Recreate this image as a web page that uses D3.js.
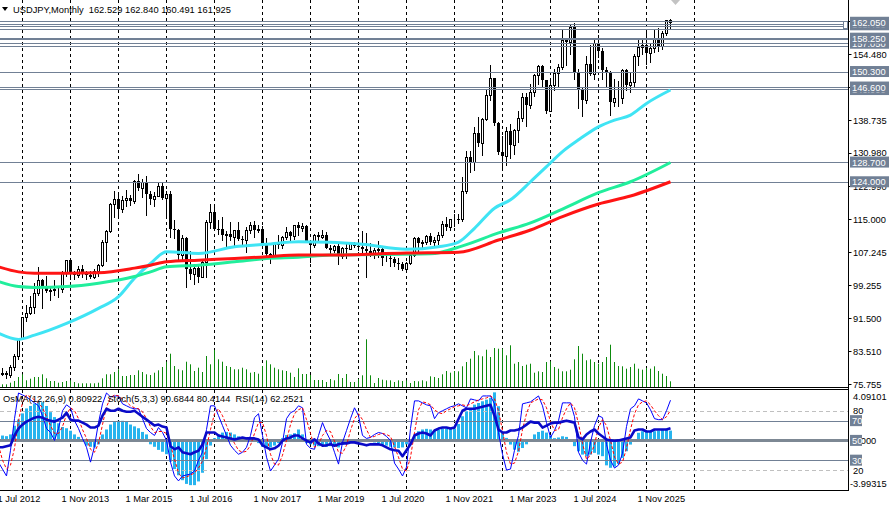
<!DOCTYPE html>
<html>
<head>
<meta charset="utf-8">
<script src="https://cdn.jsdelivr.net/npm/d3@7"></script>
<style>
  body { margin: 0; background: #fff; }
  svg { display: block; font-family: "Liberation Sans", Arial, sans-serif; font-size: 9.3px; }
  .pre { white-space: pre; }
</style>
</head>
<body>
<div id="chart"></div>
<script>
// USDJPY monthly bars, Jul 2012 .. Jul 2026 (bar index 0 = Jul 2012)
var opens = [79.8,78.1,78.4,77.9,79.8,82.5,
  86.7,91.7,92.6,94.2,97.5,100.5,99.1,97.9,98.2,98.3,98.4,102.4,
  105.3,102.0,101.8,103.2,102.2,101.8,101.3,102.8,104.1,109.6,112.3,118.6,
  119.8,117.5,119.6,120.1,119.4,124.1,122.5,123.9,121.2,119.9,120.6,123.1,
  120.2,121.1,112.7,112.6,106.5,110.7,103.2,102.1,103.4,101.3,104.8,114.5,
  116.9,112.8,112.7,111.4,111.5,110.8,112.4,110.3,110.2,112.5,113.6,112.5,
  112.7,109.2,106.7,106.3,109.3,108.8,110.8,111.9,111.0,113.7,112.9,113.5,
  109.7,108.9,111.4,110.8,111.4,108.3,107.8,108.7,106.3,108.1,108.0,109.5,
  108.6,108.4,107.9,107.5,106.9,107.8,107.9,105.9,105.9,105.5,104.7,104.3,
  103.2,104.7,106.6,110.7,109.3,109.6,111.1,109.7,110.0,111.3,113.9,113.2,
  115.1,115.1,115.0,121.7,129.8,128.7,135.7,133.3,139.0,144.7,148.7,138.1,
  131.1,130.1,136.2,132.8,136.3,139.3,144.3,142.3,145.5,149.4,151.7,148.2,
  141.0,147.0,149.9,151.3,157.8,157.3,160.9,150.0,146.2,143.6,152.0,149.8,
  157.2,155.2,150.6,149.9,143.1,144.0,144.0,150.7,147.1,147.9,154.0,156.2,
  156.7,154.8,155.9,158.2,156.5,159.4,162.529];
var highs = [79.9,79.6,78.9,80.2,82.8,86.8,
  91.8,94.5,96.7,99.9,103.7,100.9,101.5,99.1,100.6,99.0,102.6,105.4,
  105.4,102.8,103.8,104.1,102.8,102.8,103.1,104.5,110.1,112.5,119.0,121.8,
  120.8,120.5,122.0,120.8,124.5,125.9,124.6,125.3,121.8,121.5,123.8,123.7,
  121.7,121.7,114.9,112.7,111.4,110.8,107.5,104.3,104.0,105.5,114.8,118.7,
  118.6,114.9,115.5,112.2,114.4,112.5,114.5,111.1,113.2,114.4,114.7,113.8,
  113.4,110.5,107.0,109.5,111.4,111.0,113.2,112.2,113.8,114.5,114.2,113.8,
  110.0,111.5,112.1,112.4,112.0,108.8,109.0,109.3,108.5,109.3,109.7,109.7,
  110.3,112.2,111.7,109.4,108.1,109.9,108.2,107.0,106.6,106.1,105.7,104.8,
  104.9,106.7,110.9,110.9,110.2,111.2,111.7,110.8,112.1,114.7,115.5,115.2,
  116.3,116.3,125.1,131.3,131.3,137.0,139.4,139.1,145.9,151.9,148.8,138.2,
  134.8,137.1,137.9,136.6,140.9,145.1,145.1,147.4,149.7,151.8,151.9,148.3,
  148.8,150.9,152.0,160.2,158.0,161.3,161.95,150.9,146.5,153.9,156.7,158.1,
  158.9,155.9,151.3,150.5,148.6,148.0,150.9,150.9,149.9,154.5,157.9,157.8,
  159.4,157.0,160.2,160.8,160.0,162.7,162.84];
var lows = [77.9,78.0,77.1,77.5,79.0,81.7,
  86.5,90.9,92.5,92.6,97.1,93.8,97.6,95.8,96.9,96.6,97.6,101.6,
  100.8,100.8,101.2,101.4,100.8,101.1,101.1,101.5,104.0,105.2,111.9,115.6,
  115.9,116.9,118.3,118.5,118.9,122.0,120.4,116.1,118.6,118.1,120.5,119.9,
  115.9,110.9,110.7,105.5,105.5,99.0,100.7,99.5,100.1,101.2,101.2,112.9,
  112.5,111.6,110.1,108.1,110.2,108.8,110.2,108.6,107.3,111.7,110.8,111.9,
  108.3,105.6,104.6,105.7,108.1,108.1,110.3,109.8,110.4,111.4,112.3,109.6,
  104.8,108.5,109.7,110.7,108.2,106.8,107.2,104.5,105.7,105.7,107.9,108.4,
  107.7,107.0,101.2,106.4,105.9,106.1,104.2,105.1,104.0,104.0,103.2,102.9,
  102.6,104.4,106.4,107.5,108.3,109.2,109.1,108.7,109.1,110.8,112.5,112.6,
  113.5,114.2,114.6,121.3,126.4,126.9,132.5,130.4,138.8,143.5,137.5,130.6,
  127.2,128.1,129.6,130.6,133.5,138.4,137.2,141.5,144.4,147.3,146.7,140.3,
  140.8,145.9,146.5,151.0,151.9,154.5,148.5,141.7,139.6,142.9,149.4,148.6,
  153.7,148.6,146.5,139.9,142.1,142.1,142.7,145.9,145.5,146.6,151.9,154.4,
  152.1,152.5,155.0,155.3,155.6,158.9,160.491];
var closes = [78.1,78.4,77.9,79.8,82.5,86.7,
  91.7,92.6,94.2,97.5,100.5,99.1,97.9,98.2,98.3,98.4,102.4,105.3,
  102.0,101.8,103.2,102.2,101.8,101.3,102.8,104.1,109.6,112.3,118.6,119.8,
  117.5,119.6,120.1,119.4,124.1,122.5,123.9,121.2,119.9,120.6,123.1,120.2,
  121.1,112.7,112.6,106.5,110.7,103.2,102.1,103.4,101.3,104.8,114.5,116.9,
  112.8,112.7,111.4,111.5,110.8,112.4,110.3,110.2,112.5,113.6,112.5,112.7,
  109.2,106.7,106.3,109.3,108.8,110.8,111.9,111.0,113.7,112.9,113.5,109.7,
  108.9,111.4,110.8,111.4,108.3,107.8,108.7,106.3,108.1,108.0,109.5,108.6,
  108.4,107.9,107.5,106.9,107.8,107.9,105.9,105.9,105.5,104.7,104.3,103.2,
  104.7,106.6,110.7,109.3,109.6,111.1,109.7,110.0,111.3,113.9,113.2,115.1,
  115.1,115.0,121.7,129.8,128.7,135.7,133.3,139.0,144.7,148.7,138.1,131.1,
  130.1,136.2,132.8,136.3,139.3,144.3,142.3,145.5,149.4,151.7,148.2,141.0,
  147.0,149.9,151.3,157.8,157.3,160.9,150.0,146.2,143.6,152.0,149.8,157.2,
  155.2,150.6,149.9,143.1,144.0,144.05,150.7,147.1,147.9,154.0,156.2,156.7,
  154.8,155.9,158.2,156.5,159.4,162.529,161.925];
// tick volume, thousands
var volumes = [2,2.7,2.7,4.3,6,10,
  12.7,6.7,8.3,10,10,12.7,8.7,6,6,4.3,5,6,
  6.7,5,3.7,3.7,3.7,3.7,3.7,4.3,8.7,12.7,12.7,15,
  17.7,11,11,12,12,16.7,15,12.7,12,14.3,16.7,20,
  25.3,33.3,21,17.7,16.7,25.3,22.7,16,19.3,15,31,22.7,
  37,27.7,25.3,21,20,17.7,17.7,19.3,17.7,14.3,15,13.3,
  21,26.7,22.7,19.3,17.7,16.7,16,14.3,10,18.7,13,13,
  12,7,7,7,5,8,6.7,13,9,13,5,5,
  8,11.7,47.7,11.7,4,9,7.3,6.7,6.7,5,6.7,6,
  6.7,4,6,5.7,6.7,5.7,10.7,10,9,12.7,16,14.3,
  16,15.7,20.7,25,28.3,36,31.7,30.7,37.3,30,39,38.3,
  38.3,31.7,41.7,23.3,25,21,22.3,23.3,14.3,15.7,15,25,
  25.7,20,18.3,15.7,15.7,17.3,27.7,41,33.3,26.7,27.7,25,
  23.3,25,30,42.3,25,21,20.7,18.3,20,23.3,18.3,17.3,
  19,18.3,20.7,16,13.3,11,5.7];

// moving averages at a few bars
var maFastBars = [0,5,9,17,25,30,34,38,42,50,59,67,75,83,91,102,110,115,119,124,128,133,137,141,145,150,154,158,162,168];
var maFast = [87.85,86.4,87.4,90.2,93.8,96.6,101.0,104.5,107.3,106.9,108.5,109.1,109.7,109.6,109.1,107.9,108.5,109.6,112.9,117.7,119.7,124.0,127.6,131.2,134.0,137.1,138.7,139.9,142.7,145.9];
var maMidBars = [0,5,9,17,25,34,38,42,50,59,67,75,83,108,116,125,133,141,150,158,168];
var maMid = [100.2,99.0,98.8,99.0,99.8,101.4,102.5,103.7,104.1,104.9,105.7,106.0,106.5,106.8,108.7,111.8,114.2,117.5,121.4,124.0,128.6];
var maSlowBars = [0,5,9,17,25,34,38,42,50,59,67,75,83,102,115,125,133,141,150,158,168];
var maSlow = [103.7,102.5,102.2,102.2,102.3,103.4,104.1,104.9,105.3,105.7,106.1,106.5,106.5,107.0,107.2,110.1,112.5,115.7,118.7,120.6,124.0];

// oscillator window
var osma = [0.76,0.41,0.36,0.5,1.2,1.7,
  2.2,2.6,2.8,3.0,3.15,3.1,2.8,2.3,1.9,1.4,1.1,1.0,
  0.8,0.5,0.3,0.1,-0.4,-0.5,-0.55,-0.3,0.5,0.9,1.3,1.5,
  1.6,1.6,1.55,1.3,1.15,1.0,0.7,0.5,-0.3,-0.5,-0.75,-0.9,
  -1.1,-1.7,-2.3,-2.8,-3.2,-3.5,-3.6,-3.6,-3.3,-2.6,-1.5,-0.4,
  0.2,0.5,0.65,0.7,0.65,0.5,0.35,0.1,-0.05,0.05,0.1,-0.2,
  -0.5,-0.6,-0.55,-0.4,-0.2,0.2,0.45,0.5,0.6,0.9,0.5,-0.2,
  -0.3,-0.4,-0.45,-0.4,-0.5,-0.45,-0.45,-0.55,-0.35,-0.1,-0.05,0.05,
  0.05,-0.1,-0.05,-0.1,-0.15,-0.2,-0.35,-0.4,-0.5,-0.55,-0.6,-0.55,
  -0.3,0.1,0.36,0.76,0.9,0.95,0.9,0.81,0.89,0.98,0.98,1.03,
  0.98,1.34,1.97,2.37,2.64,2.91,3.04,3.18,3.31,3.45,3.9,2.78,
  0.63,0.22,-0.32,-0.73,-0.9,-0.6,-0.3,0.1,0.5,0.7,0.8,0.65,
  0.4,0.2,0.25,0.35,0.3,0.1,-0.45,-0.86,-1.13,-1.26,-1.13,-0.99,
  -1.13,-1.26,-2.0,-2.2,-2.1,-1.9,-1.4,-0.86,-0.32,0.09,0.63,0.76,
  0.76,0.76,0.76,0.81,0.89,0.95,0.81];
var stochMain = [27.7,20.9,14,40,72,98,
  96,94,91,88,85,75,62,58,50,62,80,86,
  83,70,62,52,43,28,44,68,87,98,94,95,
  95,87,85,83,82,82,72,62,58,55,63,58,
  50,28,14,9,14,15,16,19,30,38,61,85,
  85,75,65,55,45,40,36,38,43,55,73,77,
  55,33,19,25,31,48,72,78,80,85,83,46,
  42,41,55,68,58,50,38,26,48,60,72,83,
  75,55,52,53,56,58,57,54,50,27,21,14,
  23,62,90,90,88,86,85,72,78,80,82,84,
  85,87,85,83,92,91,90,95,95,95,87,58,
  36,20,21,40,55,87,88,89,92,95,85,68,
  53,60,70,88,88,88,74,38,30,26,48,65,
  75,73,46,30,22,25,37,64,82,85,92,90,
  88,81,72,71,71,80,90.68];
var stochSignal = [45,30,21,25,42,70,
  88,96,94,91,88,83,74,65,57,57,64,76,
  83,80,72,61,52,41,38,47,66,84,93,96,
  95,92,89,85,83,82,79,72,64,58,59,59,
  57,45,31,17,12,13,15,17,22,29,43,61,
  77,82,75,65,55,47,40,38,39,45,57,68,
  68,55,36,26,25,35,50,66,77,81,83,71,
  57,43,46,55,60,59,49,38,37,45,60,72,
  77,71,61,53,54,56,57,56,54,44,33,21,
  19,33,58,81,89,88,86,81,78,77,80,82,
  84,85,86,85,87,89,91,92,93,95,92,80,
  60,38,26,27,39,61,77,88,90,92,91,83,
  69,60,61,73,82,88,83,67,47,31,35,46,
  63,71,65,50,33,26,28,42,61,77,86,89,
  90,86,80,75,71,74,80.41];
var rsi = [43,43,44,45,55,62,
  66,69,71,73,74,73,71,70,69,71,73,78,
  71,70,70,68,66,63,63,65,75,82,80,80,
  82,80,79,79,80,77,74,71,68,65,66,64,
  63,44,41,43,38,37,36,38,39.5,46,58,58,
  58,55,54,53,52,51,52,53,52,52,52,51,
  45,43,41,42,44.6,49.7,52,53,55,55,52,49.7,
  48,51,47,44.6,45,46,44.6,46,47,47,48,48,
  47,46,45,46,46,46,45,43,41,40,39.5,34,
  40,46,55,57,58,57,55,60,62,63,63,62,
  63,71.6,80,82,82,82,83,84,85,86,75,61,
  58,58,60,60,61,63,66,69,68,68,63,65,
  67,68,68,69,70,69,68,53,51,56,59,61,
  57,54,51,50,49.7,50,51,52,53,60,61,61,
  59,59,61,61,61,61,62.25];

// axis ticks and drawn levels
var priceTicks = [75.755,83.510,91.500,99.255,107.245,115.000,122.990,130.980,138.735,146.725,154.480,162.470];
var levelLines = [162.45,161.7,161.05,160.45,158.25,157.95,157.1,156.45,150.3,150.12,146.6,146.1,128.7,124.0];
var hiddenLabels = [161.45,157.05,146.0];
var levelLabels = [162.05,158.25,150.3,146.6,128.7,124.0];
var dateTickBars = [0,16,32,48,64,80,96,112,128,144,160];
var dateTickLabels = ["1 Jul 2012","1 Nov 2013","1 Mar 2015","1 Jul 2016","1 Nov 2017","1 Mar 2019","1 Jul 2020","1 Nov 2021","1 Mar 2023","1 Jul 2024","1 Nov 2025"];
var oscLevels = [80,70,50,30,20];

var width = 889, height = 508;
var axisX = 848.5;
var mainBottom = 387;
var oscTop = 390, oscBottom = 490;
var levelColor = "#718095";

var svg = d3.select("#chart").append("svg")
  .attr("width", width)
  .attr("height", height);

var x = d3.scaleLinear().domain([0, 168]).range([-1.5, 670.5]);
var y = d3.scaleLinear().domain([75.755, 154.48]).range([384, 54]);
var yVol = d3.scaleLinear().domain([0, 50]).range([mainBottom, mainBottom - 50]);
var yOsc = d3.scaleLinear().domain([0, 100]).range([489.8, 391]);
var yOsma = d3.scaleLinear().domain([-3.99315, 4.09101]).range([oscBottom, oscTop]);

var defs = svg.append("defs");
defs.append("clipPath").attr("id", "mainClip")
  .append("rect").attr("x", 0).attr("y", 0).attr("width", axisX).attr("height", mainBottom);
defs.append("clipPath").attr("id", "oscClip")
  .append("rect").attr("x", 0).attr("y", oscTop).attr("width", axisX).attr("height", oscBottom - oscTop);

var main = svg.append("g").attr("clip-path", "url(#mainClip)");
var osc = svg.append("g").attr("clip-path", "url(#oscClip)");

// vertical grid on Januaries
var gridBars = d3.range(6, 175, 12);
[[0, mainBottom, main], [oscTop, oscBottom, osc]].forEach(function(p) {
  p[2].selectAll(".vgrid").data(gridBars).enter().append("line")
    .attr("x1", d => x(d)).attr("x2", d => x(d))
    .attr("y1", p[0]).attr("y2", p[1])
    .attr("stroke", "#000").attr("stroke-width", 1)
    .attr("stroke-dasharray", "3,3");
});

// volumes
main.selectAll(".vol").data(volumes).enter().append("line")
  .attr("x1", (d, i) => x(i)).attr("x2", (d, i) => x(i))
  .attr("y1", yVol(0)).attr("y2", d => yVol(d))
  .attr("stroke", "#0d8a0d").attr("stroke-width", 1);

// candles
var bars = opens.map((o, i) => ({ i: i, o: o, h: highs[i], l: lows[i], c: closes[i] }));
var candle = main.selectAll(".candle").data(bars).enter().append("g");
candle.append("line")
  .attr("x1", d => x(d.i)).attr("x2", d => x(d.i))
  .attr("y1", d => Math.round(y(d.h))).attr("y2", d => Math.round(y(d.l)) + 1)
  .attr("stroke", "#000").attr("stroke-width", 1);
candle.append("rect")
  .attr("x", d => d.c >= d.o ? x(d.i) - 1 : x(d.i) - 1.5)
  .attr("y", d => d.c >= d.o ? Math.round(y(d.c)) + 0.5 : Math.round(y(d.o)))
  .attr("width", d => d.c >= d.o ? 2 : 3)
  .attr("height", d => {
    var hh = Math.round(y(Math.min(d.o, d.c))) - Math.round(y(Math.max(d.o, d.c)));
    return d.c >= d.o ? Math.max(hh, 0) : Math.max(hh, 1);
  })
  .attr("fill", d => d.c >= d.o ? "#fff" : "#000")
  .attr("stroke", d => d.c >= d.o ? "#000" : "none")
  .attr("stroke-width", 1);

// horizontal levels
main.selectAll(".level").data(levelLines).enter().append("line")
  .attr("x1", 0).attr("x2", axisX)
  .attr("y1", d => Math.round(y(d)) + 0.5).attr("y2", d => Math.round(y(d)) + 0.5)
  .attr("stroke", levelColor).attr("stroke-width", 1);

// moving averages
function drawMa(bars, vals, color) {
  var line = d3.line()
    .x((d, k) => x(bars[k]))
    .y(d => y(d))
    .curve(d3.curveMonotoneX);
  main.append("path")
    .attr("d", line(vals))
    .attr("fill", "none")
    .attr("stroke", color)
    .attr("stroke-width", 3)
    .attr("stroke-linejoin", "round");
}
drawMa(maFastBars, maFast, "#3fe4f4");
drawMa(maMidBars, maMid, "#21ee9c");
drawMa(maSlowBars, maSlow, "#ff1414");

// shift marker
svg.append("path").attr("d", "M671,0 L680,0 L675.5,5 Z").attr("fill", "#c3c3c3");

// oscillator window: OsMA histogram
osc.selectAll(".osma").data(osma).enter().append("rect")
  .attr("x", (d, i) => x(i) - 1.5)
  .attr("width", 3)
  .attr("y", d => Math.min(yOsma(d), yOsma(0)))
  .attr("height", d => Math.abs(yOsma(d) - yOsma(0)))
  .attr("fill", "#27b4ee");

oscLevels.forEach(function(v) {
  var yy = Math.round(yOsc(v)) + 0.5;
  var dashed = v == 80 || v == 20;
  osc.append("line")
    .attr("x1", 0).attr("x2", axisX)
    .attr("y1", yy).attr("y2", yy)
    .attr("stroke", dashed ? "#c0c0c0" : (v == 50 ? "#7d8894" : levelColor))
    .attr("stroke-width", v == 50 ? 3 : 1)
    .attr("stroke-dasharray", dashed ? "4,3" : null);
});

var oscLine = d3.line().x((d, i) => x(i)).y(d => yOsc(d));
osc.append("path").attr("d", oscLine(stochMain))
  .attr("fill", "none").attr("stroke", "#0000ff").attr("stroke-width", 1);
osc.append("path").attr("d", oscLine(stochSignal))
  .attr("fill", "none").attr("stroke", "#ff0000").attr("stroke-width", 1)
  .attr("stroke-dasharray", "3,2");
osc.append("path").attr("d", oscLine(rsi))
  .attr("fill", "none").attr("stroke", "#0a0ac8").attr("stroke-width", 2.6)
  .attr("stroke-linejoin", "round");

// frame lines
svg.append("line").attr("x1", axisX).attr("x2", axisX).attr("y1", 0).attr("y2", oscBottom + 1)
  .attr("stroke", "#000");
svg.append("line").attr("x1", 0).attr("x2", axisX).attr("y1", mainBottom + 0.5).attr("y2", mainBottom + 0.5)
  .attr("stroke", "#000");
svg.append("line").attr("x1", 0).attr("x2", axisX).attr("y1", oscTop - 0.5).attr("y2", oscTop - 0.5)
  .attr("stroke", "#000");
svg.append("line").attr("x1", 0).attr("x2", axisX).attr("y1", oscBottom + 0.5).attr("y2", oscBottom + 0.5)
  .attr("stroke", "#000");

// price axis
var priceAxis = svg.append("g");
priceAxis.selectAll(".ptick").data(priceTicks).enter().append("line")
  .attr("x1", axisX).attr("x2", axisX + 3)
  .attr("y1", d => Math.round(y(d)) + 0.5).attr("y2", d => Math.round(y(d)) + 0.5)
  .attr("stroke", "#000");
priceAxis.selectAll(".plabel").data(priceTicks).enter().append("text")
  .attr("x", 853).attr("y", d => y(d) + 3.5)
  .text(d => d3.format(".3f")(d));

function levelBox(v, yy, w, label) {
  svg.append("rect")
    .attr("x", 850).attr("y", yy - 5.5)
    .attr("width", w).attr("height", 11)
    .attr("fill", levelColor);
  svg.append("text")
    .attr("x", 852).attr("y", yy + 3.5)
    .attr("fill", "#fff")
    .text(label);
}
hiddenLabels.forEach(v => levelBox(v, y(v), 39, d3.format(".3f")(v)));
levelLabels.forEach(v => levelBox(v, y(v), 39, d3.format(".3f")(v)));

// small price marker next to top label
svg.append("rect").attr("x", 843.5).attr("y", 21.5).attr("width", 4).attr("height", 7)
  .attr("fill", "#fff").attr("stroke", levelColor);

// oscillator axis labels
svg.append("text").attr("x", 853).attr("y", 400).text("4.09101");
svg.append("text").attr("x", 850).attr("y", 486.5).text("-3.99315");
svg.append("text").attr("x", 853).attr("y", yOsc(80) + 3.5).text("80");
svg.append("text").attr("x", 853).attr("y", yOsc(20) + 3.5).text("20");
svg.append("text").attr("x", 853).attr("y", yOsc(50) + 3.5).text("0.000");
[70, 50, 30].forEach(v => levelBox(v, yOsc(v), 12, String(v)));

// time axis
svg.selectAll(".dlabel").data(dateTickBars).enter().append("text")
  .attr("x", d => x(d) - 1).attr("y", 502)
  .text((d, i) => dateTickLabels[i]);

// headers
svg.append("path").attr("d", "M2,7 L8,7 L5,11 Z").attr("fill", "#000");
svg.append("text").attr("class", "pre").attr("x", 13).attr("y", 12.5)
  .text("USDJPY,Monthly  162.529 162.840 160.491 161.925");
svg.append("text").attr("class", "pre").attr("x", 3).attr("y", 401.5)
  .text("OsMA(12,26,9) 0.80922  Stoch(5,3,3) 90.6844 80.4144  RSI(14) 62.2521");
</script>
</body>
</html>
